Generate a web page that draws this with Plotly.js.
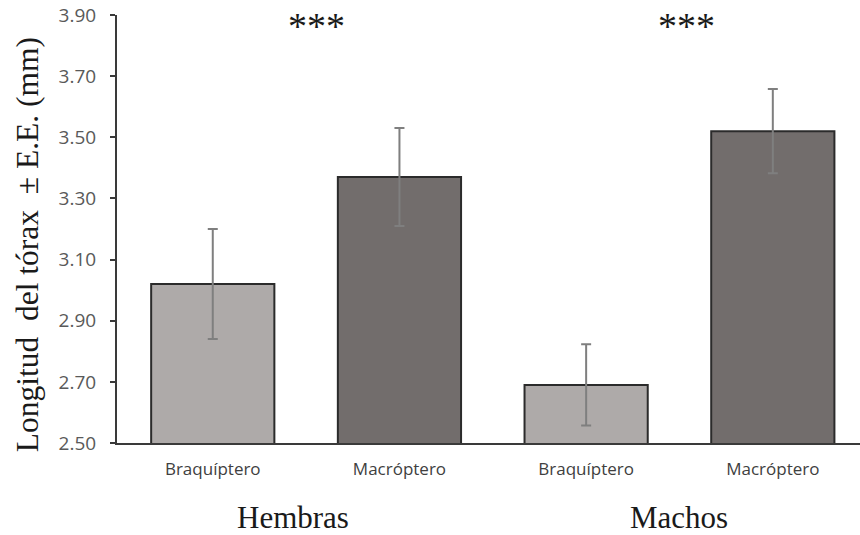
<!DOCTYPE html>
<html>
<head>
<meta charset="utf-8">
<script src="https://cdn.plot.ly/plotly-3.0.1.min.js"></script>
<style>html,body{margin:0;padding:0;background:#fff;}#chart{width:860px;height:535px;}</style>
</head>
<body>
<div id="chart"></div>
<script>
// Data
const categories = ["Braquíptero", "Macróptero", "Braquíptero", "Macróptero"];
const groups = ["Hembras", "Machos"];
const means = [3.02, 3.37, 2.69, 3.52];
const errors = [0.18, 0.16, 0.133, 0.138];
const barColors = ["#aeaaa9", "#726d6c", "#aeaaa9", "#726d6c"];
const significance = ["***", "***"];
const yTicks = [2.50, 2.70, 2.90, 3.10, 3.30, 3.50, 3.70, 3.90];
const yTitle = "Longitud  del tórax  ± E.E. (mm)";

const xIdx = categories.map((c, i) => i);

const trace = {
  type: "bar",
  x: xIdx,
  y: means,
  width: 0.66,
  marker: { color: barColors, line: { color: "#2b2b2b", width: 2 } },
  error_y: { type: "data", array: errors, visible: true, color: "#7f7f7f", thickness: 2, width: 5 },
  hoverinfo: "none"
};

const serif = "Liberation Serif, Times New Roman, serif";
const annotations = [];
groups.forEach((g, gi) => {
  annotations.push({
    xref: "x", yref: "paper", x: gi * 2 + 0.5, y: -0.175,
    text: g, showarrow: false, xanchor: "center", yanchor: "middle",
    xshift: gi === 0 ? -13 : 0,
    font: { family: serif, size: 31, color: "#1a1a1a" }
  });
  annotations.push({
    xref: "x", yref: "paper", x: gi * 2 + 0.5, y: 0.985, yshift: -5,
    text: significance[gi], showarrow: false, xanchor: "center", yanchor: "middle",
    xshift: gi === 0 ? 10 : 7,
    font: { family: serif, size: 38, color: "#1a1a1a" }
  });
});
annotations.push({
  xref: "paper", yref: "paper", x: 0, y: 0.462, xshift: -90,
  text: yTitle, showarrow: false, textangle: -90, xanchor: "center", yanchor: "middle",
  font: { family: serif, size: 31.5, color: "#1a1a1a" }
});

const layout = {
  width: 860, height: 535,
  margin: { l: 117, r: 0, t: 15, b: 92 },
  paper_bgcolor: "#ffffff", plot_bgcolor: "#ffffff",
  showlegend: false,
  xaxis: {
    range: [-0.513, 3.467],
    tickmode: "array", tickvals: xIdx, ticktext: categories,
    showgrid: false, zeroline: false,
    showline: true, linecolor: "#3a3a3a", linewidth: 2,
    ticks: "", ticklabelstandoff: 10,
    tickfont: { family: "Open Sans, sans-serif", size: 17, color: "#404040" },
    fixedrange: true
  },
  yaxis: {
    range: [2.50, 3.90],
    tickmode: "array", tickvals: yTicks, ticktext: yTicks.map(v => v.toFixed(2)),
    showgrid: false, zeroline: false,
    showline: true, linecolor: "#3a3a3a", linewidth: 2,
    ticks: "outside", ticklen: 5, tickcolor: "#3a3a3a", tickwidth: 2,
    ticklabelstandoff: 10,
    tickfont: { family: "Open Sans, sans-serif", size: 19, color: "#595959" },
    fixedrange: true
  },
  annotations: annotations
};

Plotly.newPlot("chart", [trace], layout, { displayModeBar: false, staticPlot: true });
</script>
</body>
</html>
